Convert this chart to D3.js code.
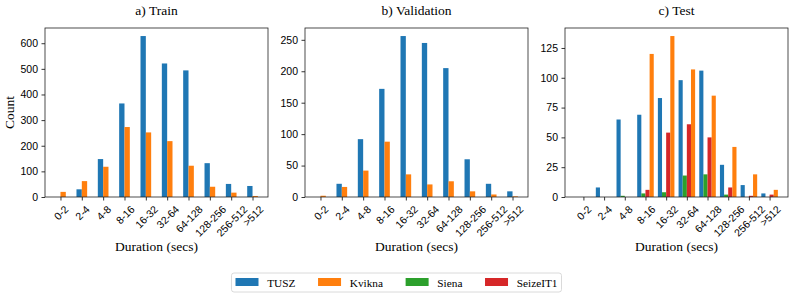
<!DOCTYPE html>
<html>
<head>
<meta charset="utf-8">
<script src="https://cdn.jsdelivr.net/npm/d3@7"></script>
<style>
  body { margin: 0; background: #fff; }
  svg { font-family: "Liberation Serif", "DejaVu Serif", serif; }
</style>
</head>
<body>
<svg id="chart" width="793" height="298"></svg>
<script>
const categories = ["0-2", "2-4", "4-8", "8-16", "16-32", "32-64", "64-128", "128-256", "256-512", ">512"];

const trainTUSZ   = [0, 30, 148, 365, 628, 521, 494, 132, 51, 43];
const trainKvikna = [20, 62, 118, 273, 252, 218, 122, 40, 17, 4];

const valTUSZ   = [0, 21, 92, 172, 256, 245, 205, 60, 21, 9];
const valKvikna = [2, 16, 42, 88, 36, 20, 25, 9, 4, 1];

const testTUSZ     = [0, 8, 65, 69, 83, 98, 106, 27, 10, 3];
const testSiena    = [0, 0, 1, 3, 4, 18, 19, 2, 0, 0];
const testSeizeIT1 = [0, 0, 0, 6, 54, 61, 50, 8, 1, 2];
const testKvikna   = [0, 0, 0, 120, 135, 107, 85, 42, 19, 6];

const trainTicks = [0, 100, 200, 300, 400, 500, 600];
const valTicks   = [0, 50, 100, 150, 200, 250];
const testTicks  = [0, 25, 50, 75, 100, 125];

const colors = { TUSZ: "#1f77b4", Kvikna: "#ff7f0e", Siena: "#2ca02c", SeizeIT1: "#d62728" };
const legendNames = ["TUSZ", "Kvikna", "Siena", "SeizeIT1"];

const svg = d3.select("#chart");

let margin = { top: 28, bottom: 101 };
let panelW = 223, height = 298;
let bodyHeight = height - margin.top - margin.bottom;

const panels = [
  { title: "a) Train", left: 45, ticks: trainTicks, barW: 0.25, ylabel: "Count",
    series: [{ name: "TUSZ", values: trainTUSZ }, { name: "Kvikna", values: trainKvikna }] },
  { title: "b) Validation", left: 305, ticks: valTicks, barW: 0.25,
    series: [{ name: "TUSZ", values: valTUSZ }, { name: "Kvikna", values: valKvikna }] },
  { title: "c) Test", left: 565, ticks: testTicks, barW: 0.2,
    series: [{ name: "TUSZ", values: testTUSZ }, { name: "Siena", values: testSiena },
             { name: "SeizeIT1", values: testSeizeIT1 }, { name: "Kvikna", values: testKvikna }] }
];

panels.forEach(p => {
  let nb = p.series.length;
  let lo = -nb / 2 * p.barW, hi = categories.length - 1 + nb / 2 * p.barW;
  let pad = (hi - lo) * 0.05;
  let xScale = d3.scaleLinear().domain([lo - pad, hi + pad]).range([0, panelW]);
  let maxVal = d3.max(p.series, s => d3.max(s.values));
  let yScale = d3.scaleLinear().domain([0, maxVal * 1.05]).range([bodyHeight, 0]);

  let g = svg.append("g").attr("transform", `translate(${p.left},${margin.top})`);

  // bars
  p.series.forEach((s, si) => {
    g.selectAll(null)
      .data(s.values)
      .enter().append("rect")
      .attr("x", (d, i) => xScale(i + (si - nb / 2) * p.barW))
      .attr("width", xScale(p.barW) - xScale(0))
      .attr("y", d => yScale(d))
      .attr("height", d => bodyHeight - yScale(d))
      .attr("fill", colors[s.name]);
  });

  // y axis
  let yAxis = d3.axisLeft(yScale).tickValues(p.ticks).tickSize(3.5).tickPadding(3.5);
  let ya = g.append("g").call(yAxis);
  ya.select(".domain").remove();
  ya.selectAll("line").attr("stroke", "#000").attr("stroke-width", 0.8);
  ya.selectAll("text").attr("font-size", 10.5).attr("font-family", null).attr("fill", "#000");

  // x axis
  let xAxis = d3.axisBottom(xScale).tickValues(d3.range(categories.length))
    .tickFormat(i => categories[i]).tickSize(3.5).tickPadding(0);
  let xa = g.append("g").attr("transform", `translate(0,${bodyHeight})`).call(xAxis);
  xa.select(".domain").remove();
  xa.selectAll("line").attr("stroke", "#000").attr("stroke-width", 0.8);
  xa.selectAll("text")
    .attr("font-size", 10.5).attr("font-family", null).attr("fill", "#000")
    .attr("dy", null).attr("y", 0)
    .attr("text-anchor", "middle").attr("dominant-baseline", "central")
    .each(function () {
      let w = this.getComputedTextLength();
      let half = (w + 9) / (2 * Math.SQRT2);
      d3.select(this).attr("transform", `translate(0,${3.5 + 3.5 + half}) rotate(-45)`);
    });

  // frame
  g.append("rect")
    .attr("x", 0).attr("y", 0).attr("width", panelW).attr("height", bodyHeight)
    .attr("fill", "none").attr("stroke", "#222").attr("stroke-width", 0.8);

  // title
  g.append("text")
    .attr("x", panelW / 2).attr("y", -13.5)
    .attr("text-anchor", "middle").attr("font-size", 13.5)
    .text(p.title);

  // x label
  g.append("text")
    .attr("x", panelW / 2).attr("y", bodyHeight + 53.5)
    .attr("text-anchor", "middle").attr("font-size", 13.5)
    .text("Duration (secs)");

  if (p.ylabel) {
    g.append("text")
      .attr("transform", `translate(${-31},${bodyHeight / 2}) rotate(-90)`)
      .attr("text-anchor", "middle").attr("font-size", 13.5)
      .text(p.ylabel);
  }
});

// legend
let legendFont = 11.3;
let handleW = 23, handleH = 8, textPad = 8.7, colSpace = 22.6, boxPad = 4;
let legend = svg.append("g");
let items = legend.selectAll("g").data(legendNames).enter().append("g");
items.append("rect")
  .attr("width", handleW).attr("height", handleH)
  .attr("y", -handleH / 2 - 0.5)
  .attr("fill", d => colors[d]);
items.append("text")
  .attr("x", handleW + textPad).attr("y", 4)
  .attr("font-size", legendFont)
  .text(d => d);
let xPos = 0;
items.each(function () {
  let tw = d3.select(this).select("text").node().getComputedTextLength();
  d3.select(this).attr("transform", `translate(${xPos},0)`);
  xPos += handleW + textPad + tw + colSpace;
});
let legendW = xPos - colSpace + 2 * boxPad;
let legendX = 396.5 - legendW / 2;
let legendY = 282.5;
legend.attr("transform", `translate(${legendX + boxPad},${legendY})`);
legend.insert("rect", ":first-child")
  .attr("x", -boxPad).attr("y", -9.5)
  .attr("width", legendW).attr("height", 19)
  .attr("rx", 2.5)
  .attr("fill", "#fff").attr("stroke", "#d0d0d0").attr("stroke-width", 0.8);
</script>
</body>
</html>
